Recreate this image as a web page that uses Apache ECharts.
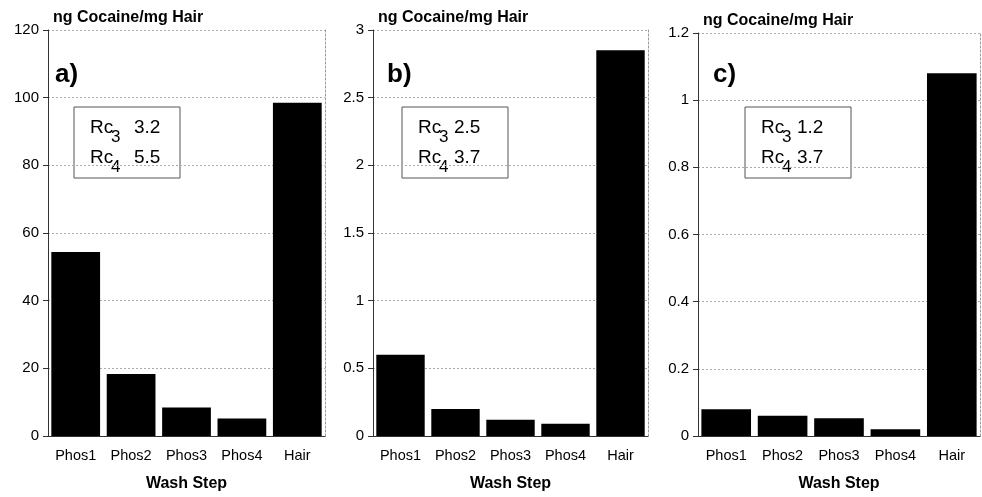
<!DOCTYPE html>
<html>
<head>
<meta charset="utf-8">
<script src="https://cdn.jsdelivr.net/npm/echarts@6/dist/echarts.min.js"></script>
<style>
  html, body { margin: 0; padding: 0; background: #fff; }
  #chart { width: 982px; height: 497px; }
</style>
</head>
<body>
<div id="chart"></div>
<script>
// data
const categories = ['Phos1', 'Phos2', 'Phos3', 'Phos4', 'Hair']
const valuesA = [54.4, 18.3, 8.4, 5.2, 98.5]
const valuesB = [0.6, 0.2, 0.12, 0.09, 2.85]
const valuesC = [0.08, 0.06, 0.053, 0.02, 1.08]
const yMax = [120, 3, 1.2]
const yStep = [20, 0.5, 0.2]
const panelLabels = ['a)', 'b)', 'c)']
const rc3 = ['3.2', '2.5', '1.2']
const rc4 = ['5.5', '3.7', '3.7']
const yTitle = 'ng Cocaine/mg Hair'
const xTitle = 'Wash Step'

const font = 'Liberation Sans, Arial, sans-serif'
const series = [valuesA, valuesB, valuesC]

// panel placement
const grids = [
  { left: 48, top: 30, width: 277, height: 413 },
  { left: 373, top: 30, width: 275, height: 413 },
  { left: 698, top: 33, width: 282, height: 406 }
]
const boxes = [74, 402, 745]
const labelShift = [7, 14, 15]
const valueShift = [60, 52, 52]

let myChart = echarts.init(document.getElementById('chart'))

const xAxis = []
const yAxis = []
const seriesList = []
const graphic = []

grids.forEach((g, i) => {
  xAxis.push({
    type: 'category',
    gridIndex: i,
    data: categories,
    name: xTitle,
    nameLocation: 'middle',
    nameGap: 40,
    nameTextStyle: { fontFamily: font, fontWeight: 'bold', fontSize: 16, color: '#000' },
    axisLine: { lineStyle: { color: '#333', width: 1 } },
    axisTick: { alignWithLabel: true, length: 5, lineStyle: { color: '#333' } },
    axisLabel: { interval: 0, fontFamily: font, fontSize: 14.5, color: '#000', margin: 12 }
  })
  yAxis.push({
    type: 'value',
    gridIndex: i,
    min: 0,
    max: yMax[i],
    interval: yStep[i],
    name: yTitle,
    nameLocation: 'end',
    nameGap: 4,
    nameTextStyle: { fontFamily: font, fontWeight: 'bold', fontSize: 16, color: '#000', align: 'left', padding: [0, 0, 0, 5] },
    axisLine: { show: true, lineStyle: { color: '#333', width: 1 } },
    axisTick: { show: true, length: 5, lineStyle: { color: '#333' } },
    axisLabel: { fontFamily: font, fontSize: 15, color: '#000', margin: 9 },
    splitLine: { show: true, lineStyle: { color: '#aaa', type: [2, 2], width: 1 } }
  })
  // right frame edge
  yAxis.push({
    type: 'value',
    gridIndex: i,
    position: 'right',
    min: 0,
    max: yMax[i],
    interval: yStep[i],
    axisLine: { show: true, lineStyle: { color: '#999', type: [2, 2], width: 1 } },
    axisTick: { show: false },
    axisLabel: { show: false },
    splitLine: { show: false }
  })
  seriesList.push({
    type: 'bar',
    xAxisIndex: i,
    yAxisIndex: i * 2,
    data: series[i],
    barCategoryGap: '12%',
    itemStyle: { color: '#000' },
    silent: true
  })

  const bx = boxes[i]
  graphic.push({
    type: 'text',
    left: g.left + labelShift[i],
    top: 62,
    style: { text: panelLabels[i], font: 'bold 26px ' + font, fill: '#000' }
  })
  graphic.push({
    type: 'rect',
    shape: { x: bx, y: 107, width: 106, height: 71 },
    style: { fill: '#fff', stroke: '#555', lineWidth: 1 }
  })
  ;[[rc3[i], '3', 128], [rc4[i], '4', 158]].forEach(([val, sub, y]) => {
    graphic.push({
      type: 'text', x: bx + 16, y: y,
      style: { text: 'Rc', font: '19px ' + font, fill: '#000', verticalAlign: 'middle' }
    })
    graphic.push({
      type: 'text', x: bx + 37, y: y + 9,
      style: { text: sub, font: '17px ' + font, fill: '#000', verticalAlign: 'middle' }
    })
    graphic.push({
      type: 'text', x: bx + valueShift[i], y: y,
      style: { text: val, font: '19px ' + font, fill: '#000', verticalAlign: 'middle' }
    })
  })
})

myChart.setOption({
  animation: false,
  grid: grids,
  xAxis: xAxis,
  yAxis: yAxis,
  series: seriesList,
  graphic: graphic
})
</script>
</body>
</html>
